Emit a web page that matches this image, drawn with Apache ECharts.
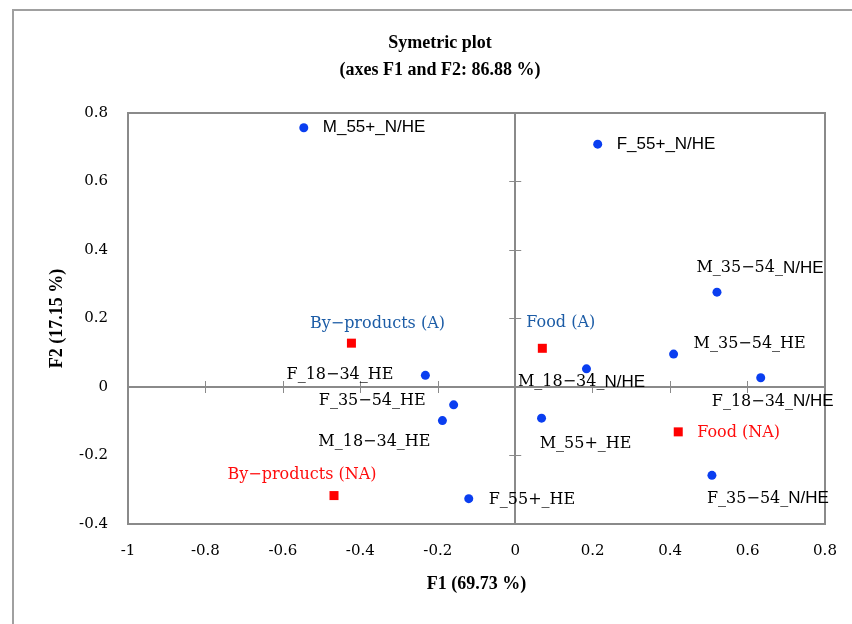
<!DOCTYPE html>
<html>
<head>
<meta charset="utf-8">
<script src="https://cdn.jsdelivr.net/npm/echarts@6/dist/echarts.min.js"></script>
<style>
  html, body { margin: 0; padding: 0; background: #fff; }
  #chart { width: 852px; height: 624px; }
</style>
</head>
<body>
<div id="chart"></div>
<script>
// consumer profiles (blue dots)
const consumerNames = ['M_55+_N/HE', 'F_55+_N/HE', 'M_35−54_N/HE', 'M_35−54_HE', 'M_18−34_N/HE', 'F_18−34_N/HE',
  'M_55+_HE', 'F_35−54_N/HE', 'F_18−34_HE', 'F_35−54_HE', 'M_18−34_HE', 'F_55+_HE'];
const consumerF1 = [-0.546, 0.213, 0.521, 0.409, 0.184, 0.634, 0.068, 0.508, -0.232, -0.159, -0.188, -0.120];
const consumerF2 = [0.757, 0.709, 0.277, 0.096, 0.053, 0.027, -0.091, -0.258, 0.034, -0.052, -0.098, -0.326];

// product categories (red squares)
const productNames = ['By−products (A)', 'Food (A)', 'Food (NA)', 'By−products (NA)'];
const productF1 = [-0.423, 0.070, 0.421, -0.468];
const productF2 = [0.128, 0.113, -0.131, -0.317];

// axis ranges
const f1Range = [-1, 0.8];
const f2Range = [-0.4, 0.8];
const tickStep = 0.2;

// label placement: [align, dx, dy] relative to the marker centre
const labelSpots = {
  'M_55+_N/HE': ['left', 19, 0],
  'F_55+_N/HE': ['left', 19, 0],
  'M_35−54_N/HE': ['center', 43, -24],
  'M_35−54_HE': ['left', 20, -10],
  'M_18−34_N/HE': ['center', -5, 13],
  'F_18−34_N/HE': ['center', 12, 24],
  'M_55+_HE': ['center', 44, 26],
  'F_35−54_N/HE': ['center', 56, 23],
  'F_18−34_HE': ['right', -32, -1],
  'F_35−54_HE': ['right', -28, -4],
  'M_18−34_HE': ['center', -68, 21],
  'F_55+_HE': ['left', 20, 1],
  'By−products (A)': ['center', 26, -19],
  'Food (A)': ['left', -16, -25],
  'Food (NA)': ['left', 19, 1],
  'By−products (NA)': ['center', -32, -21]
};

const SERIF = 'DejaVu Serif';
const SANS = 'Liberation Sans';
const GRAY = '#8a8a8a';

function richName(name) {
  if (name.indexOf('55+_N/HE') >= 0) return '{s|' + name + '}';
  if (name.endsWith('N/HE')) return '{r|' + name.slice(0, -4) + '}{s|N/HE}';
  return '{r|' + name + '}';
}

function placedLabel(name, extra) {
  const spot = labelSpots[name];
  return Object.assign({
    show: true,
    position: 'inside',
    align: spot[0],
    verticalAlign: 'middle',
    offset: [spot[1], spot[2]]
  }, extra);
}

const consumerData = consumerNames.map((n, i) => ({
  name: n,
  value: [consumerF1[i], consumerF2[i]],
  label: placedLabel(n, {
    formatter: richName(n),
    rich: {
      r: { fontFamily: SERIF, fontSize: 16, color: '#000' },
      s: { fontFamily: SANS, fontSize: 17, color: '#000' }
    }
  })
}));

const productData = productNames.map((n, i) => ({
  name: n,
  value: [productF1[i], productF2[i]],
  label: placedLabel(n, {
    formatter: n,
    fontFamily: SERIF,
    fontSize: 16,
    color: n.indexOf('(NA)') >= 0 ? '#ff0d0d' : '#1c5ca6'
  })
}));

function axis(range, extra) {
  return Object.assign({
    type: 'value',
    min: range[0],
    max: range[1],
    interval: tickStep,
    splitLine: { show: false }
  }, extra);
}

const nameStyle = { fontFamily: 'Liberation Serif', fontSize: 18, fontWeight: 'bold', color: '#000' };

const labelAxisX = axis(f1Range, {
  position: 'bottom',
  axisLine: { show: false, onZero: false },
  axisTick: { show: false },
  axisLabel: { fontFamily: SERIF, fontSize: 15, color: '#000', margin: 20 },
  name: 'F1 (69.73 %)',
  nameLocation: 'middle',
  nameGap: 51,
  nameTextStyle: nameStyle
});
const labelAxisY = axis(f2Range, {
  position: 'left',
  axisLine: { show: false, onZero: false },
  axisTick: { show: false },
  axisLabel: { fontFamily: SERIF, fontSize: 15, color: '#000', margin: 20 },
  name: 'F2 (17.15 %)',
  nameLocation: 'middle',
  nameGap: 62,
  nameTextStyle: nameStyle
});

// zero lines with ticks crossing both sides
function zeroAxis(range, pos, inside, lineShown) {
  return axis(range, {
    position: pos,
    axisLine: { show: lineShown, onZero: true, lineStyle: { color: GRAY, width: 2 } },
    axisTick: { show: true, inside: inside, length: 6, lineStyle: { color: GRAY, width: 1 } },
    axisLabel: { show: false }
  });
}

const chart = echarts.init(document.getElementById('chart'));
chart.setOption({
  animation: false,
  backgroundColor: '#fff',
  title: {
    text: 'Symetric plot\n(axes F1 and F2: 86.88 %)',
    left: 440,
    top: 30,
    textAlign: 'center',
    padding: 0,
    textStyle: { fontFamily: 'Liberation Serif', fontSize: 18, fontWeight: 'bold', lineHeight: 27, color: '#000' }
  },
  graphic: [{
    type: 'rect',
    shape: { x: 13, y: 10, width: 900, height: 700 },
    style: { fill: null, stroke: '#a0a0a0', lineWidth: 2 },
    silent: true
  }],
  grid: {
    left: 128, top: 113, right: 27, bottom: 100,
    containLabel: false,
    outerBoundsMode: 'none',
    show: true,
    borderColor: GRAY,
    borderWidth: 2,
    backgroundColor: 'transparent'
  },
  xAxis: [labelAxisX, zeroAxis(f1Range, 'bottom', true, true), zeroAxis(f1Range, 'bottom', false, false)],
  yAxis: [labelAxisY, zeroAxis(f2Range, 'left', true, true), zeroAxis(f2Range, 'left', false, false)],
  series: [
    {
      type: 'scatter',
      symbol: 'circle',
      symbolSize: 9,
      itemStyle: { color: '#0a3ef0', opacity: 1 },
      emphasis: { disabled: true },
      data: consumerData
    },
    {
      type: 'scatter',
      symbol: 'rect',
      symbolSize: 9,
      itemStyle: { color: '#ff0000', opacity: 1 },
      emphasis: { disabled: true },
      data: productData
    }
  ]
});
</script>
</body>
</html>
